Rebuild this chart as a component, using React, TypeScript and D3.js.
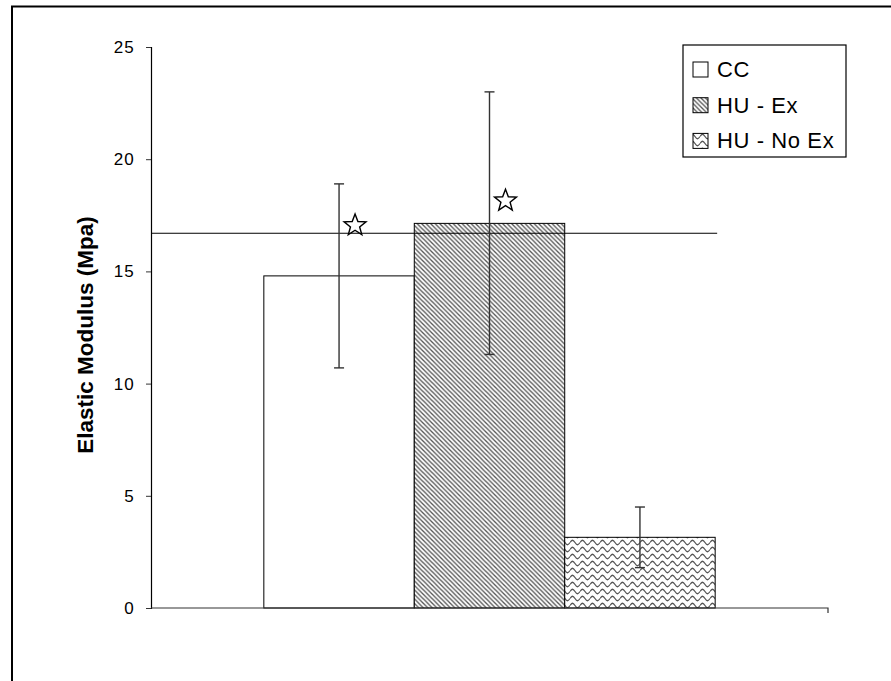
import React, { useEffect, useRef } from "react";
import * as d3 from "d3";

const categories = ["CC", "HU - Ex", "HU - No Ex"];
const means = [14.8, 17.14, 3.15];
const errHigh = [18.9, 23.0, 4.5];
const errLow = [10.7, 11.3, 1.8];
const yTicks = [0, 5, 10, 15, 20, 25];
const refLine = 16.7;
const stars = [
  { cat: "CC", value: 17.05 },
  { cat: "HU - Ex", value: 18.15 },
];
const fills = ["#ffffff", "url(#hatch)", "url(#wave)"];

const W = 891;
const H = 681;
const FONT = "Arial, 'Liberation Sans', sans-serif";

function starPath(cx: number, cy: number, r: number) {
  const pts: [number, number][] = [];
  for (let i = 0; i < 10; i++) {
    const rr = i % 2 === 0 ? r : r * 0.42;
    const a = -Math.PI / 2 + (i * Math.PI) / 5;
    pts.push([cx + rr * Math.cos(a), cy + rr * Math.sin(a)]);
  }
  return "M" + pts.map((p) => p.join(",")).join("L") + "Z";
}

export default function App() {
  const ref = useRef<SVGSVGElement>(null);

  useEffect(() => {
    const svg = d3.select(ref.current);
    svg.selectAll("*").remove();

    const left = 151;
    const right = 828;
    const top = 47;
    const bottom = 608;

    const defs = svg.append("defs");
    const hatch = defs
      .append("pattern")
      .attr("id", "hatch")
      .attr("patternUnits", "userSpaceOnUse")
      .attr("width", 4.5)
      .attr("height", 4.5);
    hatch.append("rect").attr("width", 4.5).attr("height", 4.5).attr("fill", "#fff");
    hatch
      .append("path")
      .attr("d", "M-1,-1L5.5,5.5M-1,3.5L1,5.5M3.5,-1L5.5,1")
      .attr("stroke", "#555")
      .attr("stroke-width", 1.3);

    const wave = defs
      .append("pattern")
      .attr("id", "wave")
      .attr("patternUnits", "userSpaceOnUse")
      .attr("width", 10)
      .attr("height", 7);
    wave.append("rect").attr("width", 10).attr("height", 7).attr("fill", "#fff");
    wave
      .append("path")
      .attr("d", "M0,3.5 C2,0.5 3,0.5 5,3.5 C7,6.5 8,6.5 10,3.5")
      .attr("fill", "none")
      .attr("stroke", "#555")
      .attr("stroke-width", 1.3);

    // outer frame
    svg
      .append("rect")
      .attr("x", 12)
      .attr("y", 6.5)
      .attr("width", W)
      .attr("height", H)
      .attr("fill", "none")
      .attr("stroke", "#000")
      .attr("stroke-width", 2);

    const y = d3.scaleLinear().domain([0, 25]).range([bottom, top]);
    const x = d3
      .scaleBand()
      .domain(categories)
      .range([left, right])
      .paddingInner(0)
      .paddingOuter(0.75);

    // bars
    svg
      .append("g")
      .selectAll("rect")
      .data(categories)
      .join("rect")
      .attr("x", (d) => x(d)!)
      .attr("y", (d, i) => y(means[i]))
      .attr("width", x.bandwidth())
      .attr("height", (d, i) => y(0) - y(means[i]))
      .attr("fill", (d, i) => fills[i])
      .attr("stroke", "#000")
      .attr("stroke-width", 1);

    // reference line
    svg
      .append("line")
      .attr("x1", left)
      .attr("x2", x(categories[2])! + x.bandwidth() + 2)
      .attr("y1", y(refLine))
      .attr("y2", y(refLine))
      .attr("stroke", "#000")
      .attr("stroke-width", 1);

    // error bars
    const eb = svg.append("g").attr("stroke", "#333").attr("stroke-width", 1.4);
    categories.forEach((c, i) => {
      const cx = x(c)! + x.bandwidth() / 2;
      eb.append("line").attr("x1", cx).attr("x2", cx).attr("y1", y(errHigh[i])).attr("y2", y(errLow[i]));
      eb.append("line").attr("x1", cx - 5).attr("x2", cx + 5).attr("y1", y(errHigh[i])).attr("y2", y(errHigh[i]));
      eb.append("line").attr("x1", cx - 5).attr("x2", cx + 5).attr("y1", y(errLow[i])).attr("y2", y(errLow[i]));
    });

    // stars
    svg
      .append("g")
      .selectAll("path")
      .data(stars)
      .join("path")
      .attr("d", (d) => starPath(x(d.cat)! + x.bandwidth() / 2 + 16, y(d.value), 11.5))
      .attr("fill", "#fff")
      .attr("stroke", "#000")
      .attr("stroke-width", 1.4);

    // y axis
    const yAxis = svg
      .append("g")
      .attr("transform", `translate(${left},0)`)
      .call(d3.axisLeft(y).tickValues(yTicks).tickSize(5).tickPadding(11));
    yAxis.select(".domain").attr("stroke", "#000").attr("stroke-width", 1.2);
    yAxis.selectAll("line").attr("stroke", "#333");
    yAxis
      .selectAll("text")
      .attr("font-family", FONT)
      .attr("font-size", 17)
      .attr("letter-spacing", 1.2)
      .attr("fill", "#000");

    // x axis
    svg
      .append("path")
      .attr("d", `M${left},${bottom}H${right}V${bottom + 5}`)
      .attr("fill", "none")
      .attr("stroke", "#333")
      .attr("stroke-width", 1.2);

    // y title
    svg
      .append("text")
      .attr("transform", `translate(93,335) rotate(-90)`)
      .attr("text-anchor", "middle")
      .attr("font-family", FONT)
      .attr("font-weight", "bold")
      .attr("font-size", 22.5)
      .text("Elastic Modulus (Mpa)");

    // legend
    const lg = svg.append("g");
    lg.append("rect")
      .attr("x", 683)
      .attr("y", 45)
      .attr("width", 163)
      .attr("height", 112)
      .attr("fill", "#fff")
      .attr("stroke", "#000")
      .attr("stroke-width", 1.2);
    categories.forEach((c, i) => {
      const cy = 69 + i * 35.7;
      lg.append("rect")
        .attr("x", 693)
        .attr("y", cy - 7)
        .attr("width", 15)
        .attr("height", 15)
        .attr("fill", fills[i])
        .attr("stroke", "#000")
        .attr("stroke-width", 1);
      lg.append("text")
        .attr("x", 717)
        .attr("y", cy)
        .attr("dy", "0.36em")
        .attr("font-family", FONT)
        .attr("font-size", 22)
        .attr("letter-spacing", 0.6)
        .text(c);
    });
  }, []);

  return (
    <svg
      ref={ref}
      width={W}
      height={H}
      style={{ position: "absolute", left: 0, top: 0, background: "#fff" }}
    />
  );
}
